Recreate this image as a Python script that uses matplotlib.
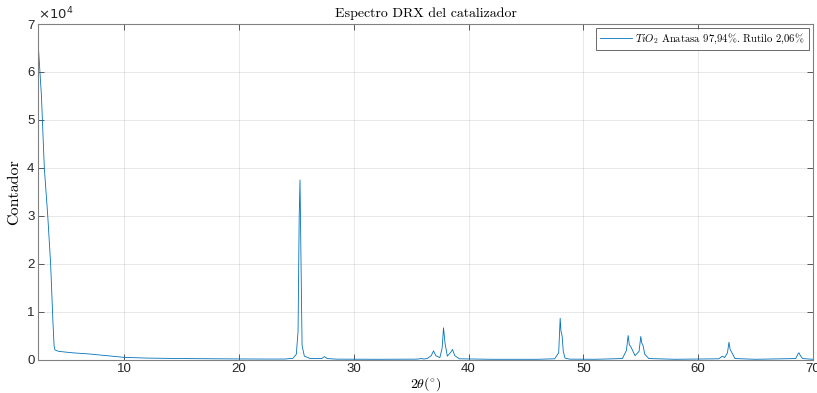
import matplotlib
matplotlib.use('Agg')
import matplotlib.pyplot as plt
from matplotlib.ticker import FuncFormatter, MultipleLocator

# Espectro DRX (2theta en grados, cuentas)
two_theta = [2.5, 2.8, 3.05, 3.35, 3.6, 3.8, 3.9, 3.97, 4.3, 5.5, 7.0, 8.5, 10.0,
             12.0, 15.0, 18.0, 20.0, 22.0, 24.0, 24.7, 25.0, 25.15, 25.25, 25.32,
             25.4, 25.5, 25.7, 26.2, 27.2, 27.45, 27.7, 28.5, 32.0, 35.5, 35.9,
             36.1, 36.4, 36.75, 36.95, 37.15, 37.5, 37.7, 37.82, 37.95, 38.15,
             38.45, 38.6, 38.8, 39.2, 42.0, 46.0, 47.5, 47.85, 47.98, 48.05,
             48.15, 48.25, 48.4, 48.8, 51.0, 53.4, 53.75, 53.9, 54.0, 54.15,
             54.5, 54.85, 55.0, 55.08, 55.2, 55.35, 55.7, 58.0, 61.8, 62.1,
             62.3, 62.55, 62.68, 62.78, 62.9, 63.2, 65.0, 68.5, 68.7, 68.78,
             68.9, 69.1, 70.0]
cuentas = [66500, 55000, 40000, 30000, 20000, 8000, 3000, 2100, 1800, 1500, 1250, 900, 550,
           400, 300, 250, 220, 200, 200, 350, 1200, 6000, 30000, 37500,
           22000, 3000, 800, 300, 300, 700, 300, 180, 150, 180, 300,
           200, 300, 900, 1900, 900, 500, 2500, 6700, 3500, 800,
           1600, 2200, 900, 250, 150, 150, 250, 1500, 8700, 6000,
           5000, 1800, 400, 180, 150, 300, 2000, 5100, 3200, 2700,
           900, 1800, 4900, 3600, 3000, 1200, 300, 150, 250, 800,
           500, 1500, 3700, 2200, 1700, 300, 150, 300, 1300, 1500,
           900, 300, 150]

etiqueta = r'$TiO_2$ Anatasa 97,94%. Rutilo 2,06%'

plt.rcParams['font.family'] = ['Liberation Sans', 'DejaVu Sans']
plt.rcParams['mathtext.fontset'] = 'cm'

fig = plt.figure(figsize=(8.17, 3.93), dpi=100)
ax = fig.add_axes([38 / 817, 1 - 360 / 393, (813 - 38) / 817, (360 - 24) / 393])

ax.plot(two_theta, cuentas, color='#0072BD', linewidth=0.6, label=etiqueta)

ax.set_xlim(2.5, 70)
ax.set_ylim(0, 70000)
ax.xaxis.set_major_locator(MultipleLocator(10))
ax.yaxis.set_major_locator(MultipleLocator(10000))
ax.yaxis.set_major_formatter(FuncFormatter(lambda v, p: f'{v / 1e4:g}'))

ax.grid(True, color='#262626', alpha=0.12, linewidth=0.6)
ax.tick_params(direction='in', top=True, right=True, length=4, width=0.6,
               colors='#404040', labelsize=9.5, labelcolor='#262626', pad=2.5)
for s in ax.spines.values():
    s.set_color('#808080')
    s.set_linewidth(0.8)

ax.text(0.0, 1.005, r'$\times 10^{4}$', transform=ax.transAxes, fontsize=9.5,
        color='#262626', ha='left', va='bottom', math_fontfamily='dejavusans')

ax.set_title('Espectro DRX del catalizador', family='cmr10', fontsize=10,
             color='black', pad=5)
ax.set_xlabel(r'$2\theta(^{\circ})$', fontsize=10, labelpad=0)
ax.set_ylabel('Contador', family='cmr10', fontsize=11.5, labelpad=4)

leg = ax.legend(loc='upper right', prop={'family': 'cmr10', 'size': 7.7},
                frameon=True, fancybox=False, edgecolor='#262626',
                borderpad=0.35, handlelength=3.0, handletextpad=0.35,
                borderaxespad=0.4)
leg.get_frame().set_linewidth(0.6)

fig.savefig('out.png', dpi=100)
